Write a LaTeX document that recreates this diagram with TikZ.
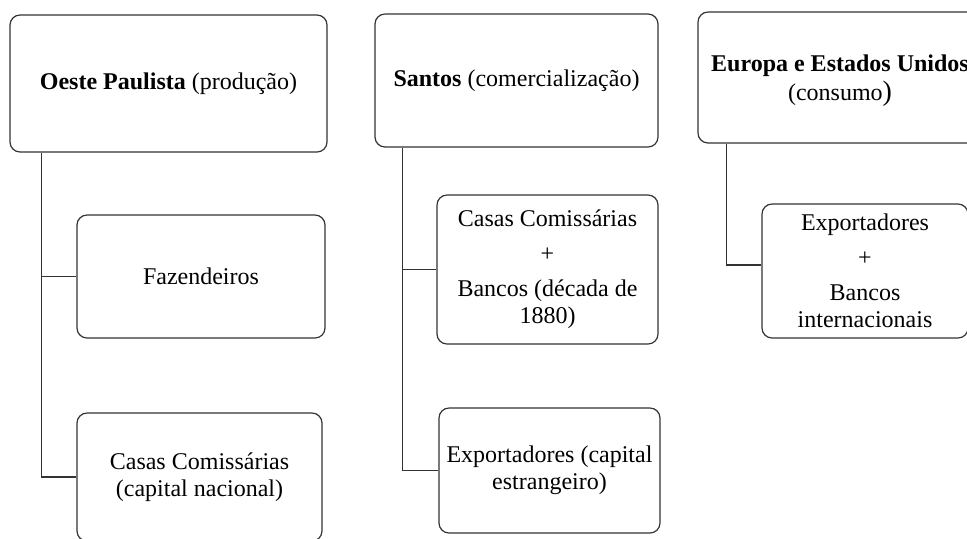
\documentclass[tikz,border=0pt]{standalone}
\usepackage{fontspec}
\setmainfont{Liberation Serif}

\begin{document}
\begin{tikzpicture}[
		x=0.5pt, y=-0.5pt,
		caixa/.style={rectangle,rounded corners=5pt,draw=black!80,line width=0.6pt,
		inner sep=2pt,align=center,font=\fontsize{12}{13.5}\selectfont},
		ligacao/.style={draw=black!80, line width=0.6pt}
		]
		\useasboundingbox (0,0) rectangle (967,538);
		\clip (0,0) rectangle (967,538);
		% producao
		\node[caixa,minimum width=158.5pt,minimum height=68.5pt] (oeste) at (168.5,83.5)
			{\textbf{Oeste Paulista} (produção)};
		\node[caixa,minimum width=124pt,minimum height=61.5pt] (faz) at (201,276.5) {Fazendeiros};
		\node[caixa,minimum width=122.5pt,minimum height=64pt] (casasnac) at (199.5,477)
			{Casas Comissárias\\ (capital nacional)};
		\draw[ligacao] (oeste.south west) ++(32,0) |- (faz.west);
		\draw[ligacao] (oeste.south west) ++(32,0) |- (casasnac.west);
		% comercializacao
		\node[caixa,minimum width=141.5pt,minimum height=66.5pt] (santos) at (516.5,80.5)
			{\textbf{Santos} (comercialização)};
		\node[caixa,minimum width=110.5pt,minimum height=74.5pt] (casasbanc) at (547.5,269.5)
			{Casas Comissárias\\[4pt] +\\[4pt] Bancos (década de\\ 1880)};
		\node[caixa,minimum width=110.5pt,minimum height=62.5pt] (export) at (549.5,470.5)
			{Exportadores (capital\\ estrangeiro)};
		\draw[ligacao] (santos.south west) ++(28,0) |- (casasbanc.west);
		\draw[ligacao] (santos.south west) ++(28,0) |- (export.west);
		% consumo
		\node[caixa,minimum width=142pt,minimum height=65.5pt] (europa) at (840,77.5)
			{\raisebox{-1.5pt}[\height][\depth]{\begin{tabular}{@{}c@{}}
				\textbf{Europa e Estados Unidos}\\[0.5pt]
				(consumo{\fontsize{14}{14}\selectfont)}
			\end{tabular}}};
		\node[caixa,minimum width=103pt,minimum height=67pt] (expint) at (865,271)
			{Exportadores\\[4pt] +\\[4pt] Bancos\\ internacionais};
		\draw[ligacao] (europa.south west) ++(29,0) |- ([yshift=3pt]expint.west);
	\end{tikzpicture}
\end{document}
